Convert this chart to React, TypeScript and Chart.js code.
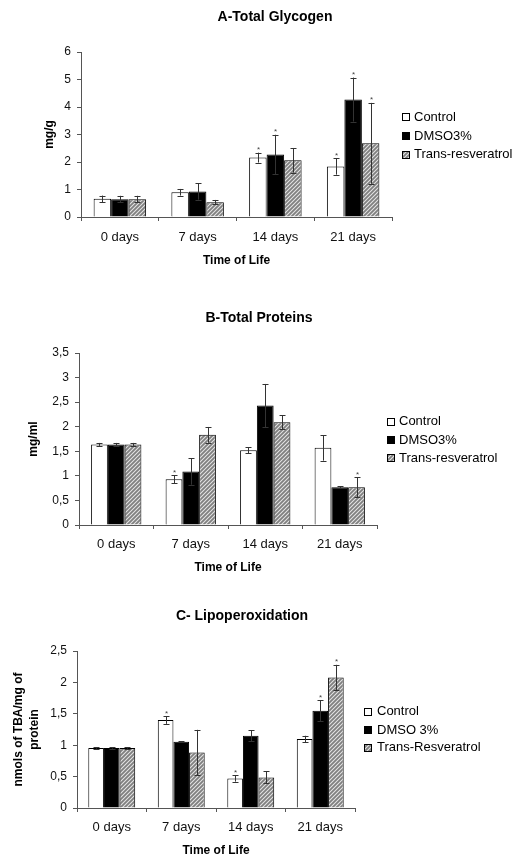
import React, { useEffect, useRef } from "react";
import { Chart, registerables } from "chart.js";

Chart.register(...registerables);

// ---------- DATA ----------
const categories = ["0 days", "7 days", "14 days", "21 days"];

// Panel A – Total Glycogen (mg/g)
const glycogenLegend = ["Control", "DMSO3%", "Trans-resveratrol"];
const glycogenControl = [0.66, 0.9, 2.16, 1.84];
const glycogenControlErr = [0.12, 0.12, 0.18, 0.3];
const glycogenDmso = [0.65, 0.93, 2.27, 4.27];
const glycogenDmsoErr = [0.12, 0.3, 0.72, 0.8];
const glycogenTrans = [0.65, 0.54, 2.06, 2.68];
const glycogenTransErr = [0.12, 0.08, 0.45, 1.47];
const glycogenControlStar = [false, false, true, true];
const glycogenDmsoStar = [false, false, true, true];
const glycogenTransStar = [false, false, false, true];
const glycogenTicks = ["0", "1", "2", "3", "4", "5", "6"];

// Panel B – Total Proteins (mg/ml)
const proteinLegend = ["Control", "DMSO3%", "Trans-resveratrol"];
const proteinControl = [1.64, 0.93, 1.52, 1.57];
const proteinControlErr = [0.03, 0.08, 0.06, 0.26];
const proteinDmso = [1.64, 1.09, 2.43, 0.77];
const proteinDmsoErr = [0.03, 0.27, 0.44, 0.02];
const proteinTrans = [1.64, 1.835, 2.09, 0.77];
const proteinTransErr = [0.03, 0.16, 0.14, 0.2];
const proteinControlStar = [false, true, false, false];
const proteinDmsoStar = [false, false, false, false];
const proteinTransStar = [false, false, false, true];
const proteinTicks = ["0", "0,5", "1", "1,5", "2", "2,5", "3", "3,5"];

// Panel C – Lipoperoxidation (nmols of TBA/mg of protein)
const lipoLegend = ["Control", "DMSO 3%", "Trans-Resveratrol"];
const lipoControl = [0.955, 1.4, 0.47, 1.1];
const lipoControlErr = [0.01, 0.06, 0.05, 0.05];
const lipoDmso = [0.955, 1.054, 1.15, 1.547];
const lipoDmsoErr = [0.01, 0.01, 0.085, 0.165];
const lipoTrans = [0.955, 0.885, 0.487, 2.08];
const lipoTransErr = [0.01, 0.36, 0.095, 0.2];
const lipoControlStar = [false, true, true, false];
const lipoDmsoStar = [false, false, false, true];
const lipoTransStar = [false, false, false, true];
const lipoTicks = ["0", "0,5", "1", "1,5", "2", "2,5"];

// ---------- LAYOUT / STYLE ----------
const FONT = '"Liberation Sans", Arial, sans-serif';

type PanelCfg = {
  top: number;
  height: number;
  plotLeft: number;
  plotRight: number;
  plotTop: number;
  plotBottom: number;
  yMax: number;
  yStep: number;
  tickLabels: string[];
  title: string;
  titleX: number;
  titleY: number;
  yTitle: string | string[];
  yTitleX: number;
  xTitleY: number;
  xTickY: number;
  legendLabels: string[];
  legendBoxX: number;
  legendTextX: number;
  legendRows: number[];
  legendFont: number;
  values: number[][];
  errors: number[][];
  stars: boolean[][];
};

function makePattern(): CanvasPattern | string {
  const c = document.createElement("canvas");
  c.width = 4;
  c.height = 4;
  const g = c.getContext("2d");
  if (!g) return "#b8b8b8";
  g.fillStyle = "#dedede";
  g.fillRect(0, 0, 4, 4);
  g.fillStyle = "#9a9a9a";
  for (let y = 0; y < 4; y++)
    for (let x = 0; x < 4; x++) if ((x + y) % 2 === 0) g.fillRect(x, y, 1, 1);
  g.fillStyle = "#808080";
  for (let i = 0; i < 4; i++) g.fillRect(i, 3 - i, 1, 1);
  return g.createPattern(c, "repeat") || "#b8b8b8";
}

function Panel({ cfg }: { cfg: PanelCfg }) {
  const ref = useRef<HTMLCanvasElement>(null);
  useEffect(() => {
    const canvas = ref.current;
    if (!canvas) return;
    const pattern = makePattern();
    const fills: any[] = ["#ffffff", "#000000", pattern];
    const multi = Array.isArray(cfg.yTitle);
    const yTitleLH = multi ? 16 / 12 : 1.2;
    const yTitleLinePx = 12 * yTitleLH;
    const xTitleLinePx = 12 * 1.2;
    const xTickLinePx = 13 * 1.2;
    const bottomEdge = cfg.top + cfg.height;

    const decor = {
      id: "decor",
      afterDatasetsDraw(chart: any) {
        const ctx = chart.ctx;
        const yScale = chart.scales.y;
        ctx.save();
        chart.data.datasets.forEach((ds: any, di: number) => {
          const meta = chart.getDatasetMeta(di);
          meta.data.forEach((el: any, i: number) => {
            const v = cfg.values[di][i];
            const e = cfg.errors[di][i];
            const x = Math.round(el.x) + 0.5;
            const yTop = yScale.getPixelForValue(v + e);
            const yBot = yScale.getPixelForValue(Math.max(0, v - e));
            ctx.strokeStyle = "#333333";
            ctx.lineWidth = 1;
            ctx.beginPath();
            ctx.moveTo(x, yTop);
            ctx.lineTo(x, yBot);
            ctx.moveTo(x - 3, Math.round(yTop) + 0.5);
            ctx.lineTo(x + 3, Math.round(yTop) + 0.5);
            ctx.moveTo(x - 3, Math.round(yBot) + 0.5);
            ctx.lineTo(x + 3, Math.round(yBot) + 0.5);
            ctx.stroke();
            if (cfg.stars[di][i]) {
              ctx.fillStyle = "#444444";
              ctx.font = `8px ${FONT}`;
              ctx.textAlign = "center";
              ctx.textBaseline = "alphabetic";
              ctx.fillText("*", x, yTop - 0.5);
            }
          });
        });
        ctx.restore();
      },
      afterDraw(chart: any) {
        const ctx = chart.ctx;
        ctx.save();
        // title
        ctx.fillStyle = "#000";
        ctx.font = `bold 14px ${FONT}`;
        ctx.textAlign = "center";
        ctx.textBaseline = "middle";
        ctx.fillText(cfg.title, cfg.titleX, cfg.titleY - cfg.top);
        // legend
        ctx.font = `${cfg.legendFont}px ${FONT}`;
        ctx.textAlign = "left";
        cfg.legendLabels.forEach((lab, i) => {
          const cy = cfg.legendRows[i] - cfg.top;
          const bx = cfg.legendBoxX;
          const by = Math.round(cy - 4);
          ctx.fillStyle = fills[i];
          ctx.fillRect(bx, by, 8, 8);
          ctx.strokeStyle = "#000";
          ctx.lineWidth = 1;
          ctx.strokeRect(bx + 0.5, by + 0.5, 7, 7);
          ctx.fillStyle = "#000";
          ctx.fillText(lab, cfg.legendTextX, cy);
        });
        ctx.restore();
      },
    };

    const chart = new Chart(canvas, {
      type: "bar",
      data: {
        labels: categories,
        datasets: cfg.values.map((vals, i) => ({
          label: cfg.legendLabels[i],
          data: vals,
          backgroundColor: fills[i],
          borderColor: "#000000",
          borderWidth: 1,
          categoryPercentage: 0.675,
          barPercentage: 1,
        })),
      },
      options: {
        responsive: false,
        animation: false,
        devicePixelRatio: 1,
        layout: {
          padding: {
            left: 0,
            top: cfg.plotTop - cfg.top,
            right: 513 - cfg.plotRight,
            bottom: 0,
          },
        },
        plugins: {
          legend: { display: false },
          title: { display: false },
          tooltip: { enabled: false },
        },
        scales: {
          x: {
            grid: {
              display: true,
              drawOnChartArea: false,
              drawTicks: true,
              tickLength: 4,
              color: "#555555",
              offset: true,
            },
            border: { display: true, color: "#555555", width: 1 },
            ticks: {
              font: { family: FONT, size: 13 },
              color: "#111111",
              padding: cfg.xTickY - cfg.plotBottom - 4 - xTickLinePx / 2,
            },
            title: {
              display: true,
              text: "Time of Life",
              color: "#000000",
              font: { family: FONT, size: 12, weight: "bold", lineHeight: 1.2 },
              padding: { top: 0, bottom: bottomEdge - cfg.xTitleY - xTitleLinePx / 2 },
            },
            afterFit: (s: any) => {
              s.height = bottomEdge - cfg.plotBottom;
            },
          },
          y: {
            min: 0,
            max: cfg.yMax,
            ticks: {
              stepSize: cfg.yStep,
              font: { family: FONT, size: 12 },
              color: "#111111",
              padding: 6,
              callback: (v: any) => cfg.tickLabels[Math.round(Number(v) / cfg.yStep)],
            },
            grid: {
              display: true,
              drawOnChartArea: false,
              drawTicks: true,
              tickLength: 4,
              color: "#555555",
            },
            border: { display: true, color: "#555555", width: 1 },
            title: {
              display: true,
              text: cfg.yTitle as any,
              color: "#000000",
              font: { family: FONT, size: 12, weight: "bold", lineHeight: yTitleLH },
              padding: { top: cfg.yTitleX - yTitleLinePx / 2, bottom: 0 },
            },
            afterFit: (s: any) => {
              s.width = cfg.plotLeft;
            },
          },
        },
      } as any,
      plugins: [decor],
    });
    return () => chart.destroy();
  }, [cfg]);
  return (
    <canvas
      ref={ref}
      width={513}
      height={cfg.height}
      style={{ position: "absolute", left: 0, top: cfg.top, width: 513, height: cfg.height }}
    />
  );
}

const panelA: PanelCfg = {
  top: 0,
  height: 280,
  plotLeft: 81,
  plotRight: 392,
  plotTop: 52,
  plotBottom: 217,
  yMax: 6,
  yStep: 1,
  tickLabels: glycogenTicks,
  title: "A-Total Glycogen",
  titleX: 275,
  titleY: 17,
  yTitle: "mg/g",
  yTitleX: 50,
  xTitleY: 261,
  xTickY: 237,
  legendLabels: glycogenLegend,
  legendBoxX: 402,
  legendTextX: 414,
  legendRows: [117, 136, 154.5],
  legendFont: 13,
  values: [glycogenControl, glycogenDmso, glycogenTrans],
  errors: [glycogenControlErr, glycogenDmsoErr, glycogenTransErr],
  stars: [glycogenControlStar, glycogenDmsoStar, glycogenTransStar],
};

const panelB: PanelCfg = {
  top: 280,
  height: 300,
  plotLeft: 79,
  plotRight: 377,
  plotTop: 353,
  plotBottom: 525,
  yMax: 3.5,
  yStep: 0.5,
  tickLabels: proteinTicks,
  title: "B-Total Proteins",
  titleX: 259,
  titleY: 318,
  yTitle: "mg/ml",
  yTitleX: 34,
  xTitleY: 568,
  xTickY: 544,
  legendLabels: proteinLegend,
  legendBoxX: 387,
  legendTextX: 399,
  legendRows: [421.7, 440, 458.3],
  legendFont: 13,
  values: [proteinControl, proteinDmso, proteinTrans],
  errors: [proteinControlErr, proteinDmsoErr, proteinTransErr],
  stars: [proteinControlStar, proteinDmsoStar, proteinTransStar],
};

const panelC: PanelCfg = {
  top: 580,
  height: 277,
  plotLeft: 77,
  plotRight: 355,
  plotTop: 651,
  plotBottom: 808,
  yMax: 2.5,
  yStep: 0.5,
  tickLabels: lipoTicks,
  title: "C- Lipoperoxidation",
  titleX: 242,
  titleY: 616,
  yTitle: ["nmols of TBA/mg of", "protein"],
  yTitleX: 18.3,
  xTitleY: 851,
  xTickY: 827,
  legendLabels: lipoLegend,
  legendBoxX: 364,
  legendTextX: 377,
  legendRows: [711.7, 730, 747.7],
  legendFont: 13,
  values: [lipoControl, lipoDmso, lipoTrans],
  errors: [lipoControlErr, lipoDmsoErr, lipoTransErr],
  stars: [lipoControlStar, lipoDmsoStar, lipoTransStar],
};

export default function App() {
  return (
    <div
      style={{
        position: "absolute",
        left: 0,
        top: 0,
        width: 513,
        height: 857,
        background: "#ffffff",
        overflow: "hidden",
      }}
    >
      <Panel cfg={panelA} />
      <Panel cfg={panelB} />
      <Panel cfg={panelC} />
    </div>
  );
}
